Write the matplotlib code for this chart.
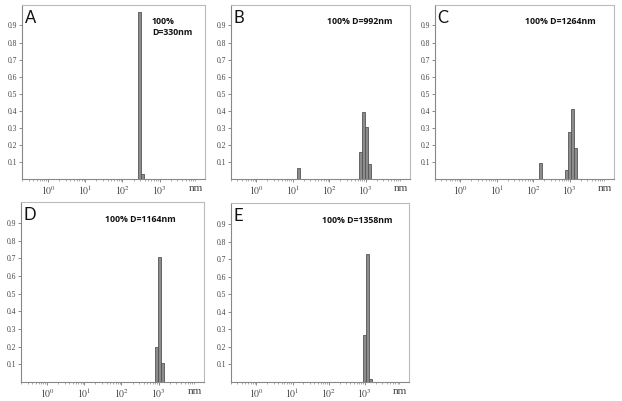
import numpy as np
import matplotlib
matplotlib.use("Agg")
import matplotlib.pyplot as plt
from matplotlib.ticker import FixedLocator, NullFormatter

# ---- data (size in nm -> fraction) ----
labels = ["A", "B", "C", "D", "E"]
notes = ["100%\nD=330nm", "100% D=992nm", "100% D=1264nm", "100% D=1164nm", "100% D=1358nm"]
sizes_A = [295, 355]
vals_A = [0.98, 0.03]
sizes_B = [14.5, 716, 861, 1047, 1259]
vals_B = [0.065, 0.16, 0.39, 0.305, 0.09]
sizes_C = [160, 850, 1000, 1216, 1445]
vals_C = [0.095, 0.05, 0.275, 0.41, 0.18]
sizes_D = [860, 1060, 1290]
vals_D = [0.20, 0.71, 0.105]
sizes_E = [980, 1160, 1430]
vals_E = [0.265, 0.73, 0.015]
xticks = [1, 10, 100, 1000]
xticklabels = [r"$10^0$", r"$10^1$", r"$10^2$", r"$10^3$"]
yticks = [0.1, 0.2, 0.3, 0.4, 0.5, 0.6, 0.7, 0.8, 0.9]

series = [(sizes_A, vals_A), (sizes_B, vals_B), (sizes_C, vals_C),
          (sizes_D, vals_D), (sizes_E, vals_E)]

W, H = 622, 401
fig = plt.figure(figsize=(W / 100, H / 100), dpi=100)
plt.rcParams['mathtext.fontset'] = 'stix'

# boxes in pixels: left, top, right, bottom
boxes = [(22, 5, 205, 179), (231, 5, 410, 179), (435, 5, 614, 179),
         (21, 202, 204, 382), (231, 203, 409, 382)]
note_pos = [(0.71, 0.93), (0.90, 0.93), (0.90, 0.93), (0.46, 0.93), (0.51, 0.93)]
note_ha = ["left", "right", "right", "left", "left"]

logw = 0.085
for i, (lab, note, (xs, ys), box) in enumerate(zip(labels, notes, series, boxes)):
    l, t, r, b = box
    ax = fig.add_axes([l / W, 1 - b / H, (r - l) / W, (b - t) / H])
    xs = np.array(xs, dtype=float)
    lo = xs * 10 ** (-logw / 2)
    hi = xs * 10 ** (logw / 2)
    ax.bar(lo, ys, width=hi - lo, align="edge", color="#8c8c8c",
           edgecolor="#555555", linewidth=0.6)
    ax.set_xscale("log")
    ax.set_xlim(10 ** -0.7, 10 ** 4.22)
    ax.set_ylim(0, 1.02)
    ax.xaxis.set_major_locator(FixedLocator(xticks))
    ax.set_xticklabels(xticklabels)
    ax.xaxis.set_minor_locator(FixedLocator(
        [m * 10 ** e for e in range(-1, 5) for m in range(2, 10)]))
    ax.xaxis.set_minor_formatter(NullFormatter())
    ax.set_yticks(yticks)
    ax.set_yticklabels([f"{v:.1f}" for v in yticks])
    ax.tick_params(axis="both", which="major", labelsize=6, colors="#777777",
                   labelcolor="#444444", length=2, width=0.6, pad=1.5)
    ax.tick_params(axis="x", which="minor", length=1.5, width=0.5, colors="#888888")
    for lbl in ax.get_yticklabels():
        lbl.set_family("Liberation Serif")
        lbl.set_fontsize(5.5)
    for lbl in ax.get_xticklabels():
        lbl.set_fontsize(7)
    for s in ["left", "bottom"]:
        ax.spines[s].set_color("#888888")
        ax.spines[s].set_linewidth(0.8)
    for s in ["top", "right"]:
        ax.spines[s].set_color("#bbbbbb")
        ax.spines[s].set_linewidth(0.8)
    ax.text(0.015, 0.925, lab, transform=ax.transAxes, fontsize=12,
            family="Lato", ha="left", va="center", color="#111111")
    ax.text(note_pos[i][0], note_pos[i][1], note, transform=ax.transAxes,
            fontsize=6.3, fontweight="bold", family="Open Sans",
            ha=note_ha[i], va="top", color="#111111", linespacing=1.3)
    ax.text(0.95, -0.03, "nm", transform=ax.transAxes, fontsize=8,
            family="Liberation Serif", ha="center", va="top", color="#444444")

fig.savefig("out.png", dpi=100)
